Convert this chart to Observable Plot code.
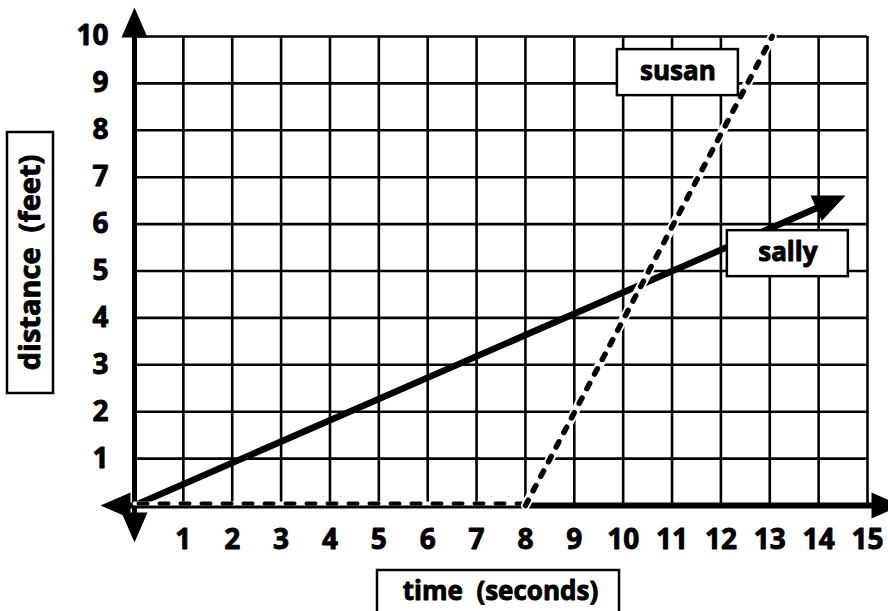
<!DOCTYPE html>
<html><head><meta charset="utf-8">
<script src="https://cdn.jsdelivr.net/npm/d3@7"></script>
<script src="https://cdn.jsdelivr.net/npm/@observablehq/plot@0.6"></script>
<style>
html,body{margin:0;padding:0;background:#fff;overflow:hidden}
#chart svg{display:block}
</style>
</head><body><div id="chart"></div>
<script>
// ---- data ----
const xTicks = [1,2,3,4,5,6,7,8,9,10,11,12,13,14,15];
const yTicks = [1,2,3,4,5,6,7,8,9,10];
const sallyTime = [0, 14.55];
const sallyDistance = [0, 6.61];
const susanFlatTime = [0, 8];
const susanFlatDistance = [0, 0];
const susanRiseTime = [8, 13.05];
const susanRiseDistance = [0, 10];
const seriesNames = ["susan", "sally"];
const labelX = [11.12, 13.37];
const labelY = [9.23, 5.37];
const xTitle = "time\u00a0 (seconds)";
const yTitle = "distance\u00a0 (feet)";

// ---- layout ----
const W = 888, H = 611;
const mL = 134, mR = 21, mT = 36, mB = 106;
const kx = (W - mL - mR) / 15, ky = (H - mT - mB) / 10;
const FONT = "'Open Sans', 'DejaVu Sans', sans-serif";
const heavy = {fontWeight: 700, fill: "#000", stroke: "#000", strokeWidth: 0.9};

function head(len, width) {
  return {draw(ctx) { ctx.moveTo(0, 0); ctx.lineTo(width / 2, len); ctx.lineTo(-width / 2, len); ctx.closePath(); }};
}

const sally = sallyTime.map((t, i) => ({t, d: sallyDistance[i]}));
const sTip = sally[1];
const sAngle = Math.atan2(sTip.t * kx, sTip.d * ky) * 180 / Math.PI;
const back = 18;
const sLen = Math.hypot(sTip.t * kx, sTip.d * ky);
const sallyLine = [sally[0], {t: sTip.t * (1 - back / sLen), d: sTip.d * (1 - back / sLen)}];
const susanFlat = susanFlatTime.map((t, i) => ({t, d: susanFlatDistance[i]}));
const susanRise = susanRiseTime.map((t, i) => ({t, d: susanRiseDistance[i]}));
const labels = seriesNames.map((n, i) => ({n, x: labelX[i], y: labelY[i]}));
const bw = 121 / kx / 2, bh = 46 / ky / 2;

const axisArrows = [
  {x: 0, y: 10 + 29 / ky, r: 0},
  {x: 15 + 34 / kx, y: 0, r: 90},
  {x: -34 / kx, y: 0, r: 270},
  {x: 0, y: -37 / ky, r: 180}
];

const chart = Plot.plot({
  width: W, height: H,
  marginLeft: mL, marginRight: mR, marginTop: mT, marginBottom: mB,
  x: {domain: [0, 15], axis: null},
  y: {domain: [0, 10], axis: null},
  style: {fontFamily: FONT, background: "#fff", color: "#000", overflow: "visible"},
  marks: [
    // grid
    Plot.ruleX(xTicks, {x: d => d, y1: 0, y2: 10, stroke: "#000", strokeWidth: 2.6}),
    Plot.ruleY(yTicks, {y: d => d, x1: 0, x2: 15, stroke: "#000", strokeWidth: 2.6}),
    // axes
    Plot.ruleX([0], {y1: -30 / ky, y2: 10 + 10 / ky, stroke: "#000", strokeWidth: 5}),
    Plot.ruleY([0], {x1: -20 / kx, x2: 15 + 10 / kx, stroke: "#000", strokeWidth: 6}),
    Plot.dot(axisArrows, {x: "x", y: "y", rotate: "r", symbol: head(30, 26), fill: "#000", stroke: "none"}),
    // sally
    Plot.line(sallyLine, {x: "t", y: "d", stroke: "#000", strokeWidth: 6.5}),
    Plot.dot([sTip], {x: "t", y: "d", rotate: sAngle, symbol: head(32, 28), fill: "#000", stroke: "none"}),
    // susan
    Plot.line(susanFlat, {x: "t", y: "d", dy: -2, stroke: "#fff", strokeWidth: 4}),
    Plot.line(susanFlat, {x: "t", y: "d", dy: -2, stroke: "#000", strokeWidth: 4, strokeDasharray: "9,12", strokeDashoffset: -4}),
    Plot.line(susanRise, {x: "t", y: "d", stroke: "#fff", strokeWidth: 9}),
    Plot.line(susanRise, {x: "t", y: "d", stroke: "#000", strokeWidth: 5.5, strokeDasharray: "6,10.5"}),
    // series label boxes
    Plot.rect(labels, {x1: d => d.x - bw, x2: d => d.x + bw, y1: d => d.y - bh, y2: d => d.y + bh, fill: "#fff", stroke: "#000", strokeWidth: 2.5}),
    Plot.text(labels, {x: "x", y: "y", text: "n", fontSize: 26, dy: -1, ...heavy}),
    // tick labels
    Plot.text(xTicks, {x: d => d, y: 0, text: d => String(d), dy: 35, fontSize: 28, ...heavy}),
    Plot.text(yTicks, {x: 0, y: d => d, text: d => String(d), dx: -26, textAnchor: "end", fontSize: 28, ...heavy}),
    // axis title boxes
    Plot.rect([0], {x1: -127 / kx, x2: -81 / kx, y1: -(393 - 505) / ky, y2: -(132 - 505) / ky, fill: "#fff", stroke: "#000", strokeWidth: 2.5}),
    Plot.text([yTitle], {x: -104 / kx, y: -(262 - 505) / ky, text: d => d, rotate: -90, fontSize: 29, ...heavy}),
    Plot.rect([0], {x1: (377 - 134) / kx, x2: (619 - 134) / kx, y1: -(640 - 505) / ky, y2: -(570 - 505) / ky, fill: "#fff", stroke: "#000", strokeWidth: 2.5}),
    Plot.text([xTitle], {x: (500 - 134) / kx, y: -(591 - 505) / ky, text: d => d, fontSize: 26, ...heavy})
  ]
});
document.getElementById("chart").appendChild(chart);
</script>
</body></html>
